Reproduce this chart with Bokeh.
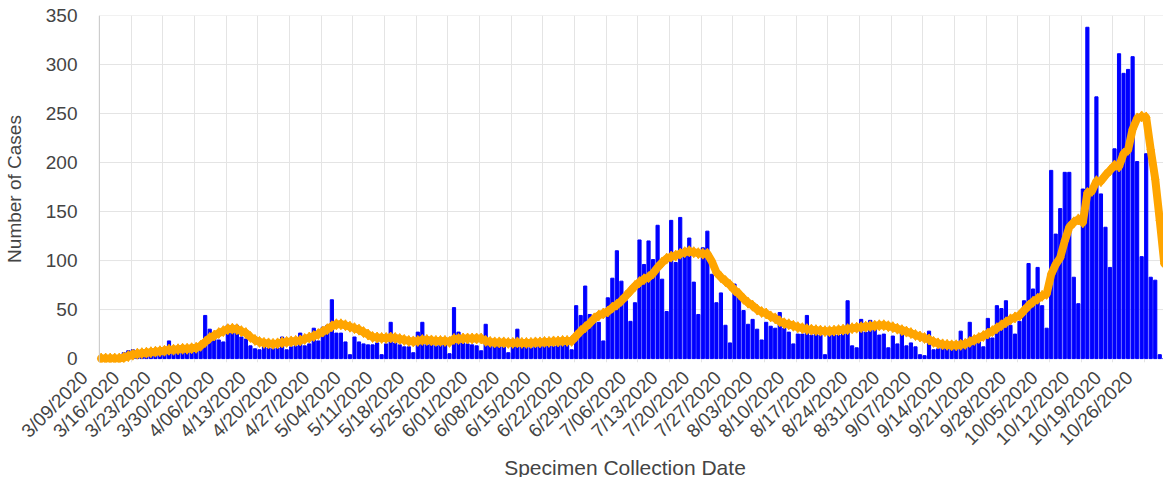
import math
from bokeh.plotting import figure
from bokeh.models import ColumnDataSource, FixedTicker, Range1d, Span
from bokeh.embed import file_html
from bokeh.resources import INLINE

# Daily case counts, one per day starting 3/09/2020
daily_cases = [
    0, 0, 0, 0, 0, 6, 8, 9, 6, 7,
    8, 5, 9, 7, 8, 18, 7, 8, 9, 10,
    9, 8, 16, 44, 30, 26, 19, 17, 34, 31,
    34, 22, 20, 13, 10, 9, 12, 11, 10, 11,
    22, 9, 12, 13, 26, 13, 15, 31, 18, 32,
    34, 60, 26, 26, 17, 4, 22, 17, 15, 14,
    14, 16, 4, 15, 37, 16, 14, 12, 12, 6,
    27, 37, 14, 15, 13, 14, 15, 5, 52, 27,
    16, 15, 14, 13, 8, 35, 15, 13, 13, 12,
    6, 12, 30, 12, 13, 11, 13, 13, 14, 15,
    13, 15, 14, 15, 9, 54, 44, 74, 45, 38,
    37, 18, 62, 82, 110, 79, 59, 38, 57, 121,
    96, 120, 101, 136, 81, 48, 141, 98, 144, 105,
    123, 78, 45, 113, 130, 86, 57, 67, 34, 16,
    76, 69, 49, 35, 40, 30, 19, 37, 33, 31,
    47, 31, 27, 15, 25, 25, 44, 24, 25, 24,
    4, 24, 25, 24, 25, 59, 13, 11, 40, 27,
    39, 30, 24, 25, 11, 23, 15, 32, 13, 16,
    12, 4, 3, 28, 9, 10, 11, 10, 11, 12,
    28, 14, 37, 19, 17, 12, 41, 21, 54, 51,
    59, 34, 25, 38, 59, 97, 71, 93, 54, 31,
    192, 127, 153, 190, 190, 83, 56, 173, 338, 168,
    267, 168, 134, 93, 214, 311, 291, 295, 308, 201,
    104, 209, 83, 80, 4, 0,
]

# 7-day average line
seven_day_avg = [
    0, 0, 0, 0, 0, 1, 2.5, 4, 5, 5.5,
    6, 6.5, 7, 7.5, 8, 9, 9, 9.5, 10, 10,
    10.5, 11, 13, 17, 21, 23.5, 26, 28, 30, 30.5,
    30, 28, 26, 22, 19, 17, 16, 15.5, 15, 15.5,
    16.5, 17, 17.5, 18, 18.5, 20, 21.5, 23, 25, 27.5,
    30, 33, 35, 35, 34, 32.5, 31, 29.5, 27, 24.5,
    22, 21.5, 21, 21, 21.5, 21, 20, 19, 18, 17.5,
    18, 19, 19, 18.5, 18, 18, 18, 17, 20, 20,
    20.5, 20.5, 20.5, 20.5, 20.5, 18, 17, 16.5, 16.5, 16.5,
    16, 16, 16.5, 16, 16, 16, 16.5, 16.5, 17, 17,
    17.5, 17.5, 18, 18, 18, 23, 28, 32, 36, 41,
    44, 46, 48, 52, 55, 59, 64, 69, 74, 78,
    81, 83, 87, 93, 98, 102, 104, 105, 107, 108.5,
    109.5, 108.5, 107.5, 107, 107, 99, 88, 83, 79, 75,
    70, 66, 61, 57, 54, 50, 47.5, 46, 43, 41,
    38, 36, 35, 33.5, 32, 31, 30, 29.5, 29, 28.5,
    28, 28, 28.5, 29, 29.5, 30, 31, 31.5, 32, 32.5,
    33, 33.5, 34, 34, 33, 32, 30.5, 29, 27.5, 26,
    24, 22.5, 21, 19.5, 17, 15.5, 14.5, 14, 13.5, 13.5,
    14, 15, 17, 19, 21, 23, 25.5, 28, 31, 34,
    37, 40, 42, 44, 49, 54, 58, 61, 64, 66,
    86, 96, 103, 120, 134, 139, 142, 139, 169, 171,
    181, 181, 187, 192, 197, 196, 209, 213, 234, 245,
    247, 246, 213, 183, 141, 97,
]

week_labels = [
    "3/09/2020", "3/16/2020", "3/23/2020", "3/30/2020", "4/06/2020",
    "4/13/2020", "4/20/2020", "4/27/2020", "5/04/2020", "5/11/2020",
    "5/18/2020", "5/25/2020", "6/01/2020", "6/08/2020", "6/15/2020",
    "6/22/2020", "6/29/2020", "7/06/2020", "7/13/2020", "7/20/2020",
    "7/27/2020", "8/03/2020", "8/10/2020", "8/17/2020", "8/24/2020",
    "8/31/2020", "9/07/2020", "9/14/2020", "9/21/2020", "9/28/2020",
    "10/05/2020", "10/12/2020", "10/19/2020", "10/26/2020",
]

y_ticks = [0, 50, 100, 150, 200, 250, 300, 350]

FONT = "Liberation Sans"
TXT = "#444444"
GRID = "#e4e4e4"
PX_PER_DAY = 4.524
X0 = -3.5          # room left of day 0 for the first rotated label
LABEL_SHIFT = 3.3  # rotated labels end slightly left of their week line
FW, FH = 1083, 347

n = len(daily_cases)
day_pos = [i + 0.4 for i in range(n)]
src = ColumnDataSource(dict(x=day_pos, cases=daily_cases, avg=seven_day_avg))

week_days = [7 * k for k in range(len(week_labels))]
label_pos = [d - LABEL_SHIFT for d in week_days]
x_end = X0 + FW / PX_PER_DAY

p = figure(
    frame_width=FW, frame_height=FH,
    x_range=Range1d(X0, x_end), y_range=Range1d(-4, 350),
    output_backend="svg", toolbar_location=None,
    min_border_left=80, min_border_right=0, min_border_top=15, min_border_bottom=115,
    background_fill_color="white", border_fill_color="white",
)
p.outline_line_color = None

# horizontal grid lines starting at the y axis (day 0)
p.ygrid.grid_line_color = None
p.segment(x0=[0] * len(y_ticks), x1=[x_end + 1] * len(y_ticks),
          y0=y_ticks, y1=y_ticks, line_color=GRID, line_width=1)
# vertical week grid lines
p.xgrid.ticker = FixedTicker(ticks=week_days)
p.xgrid.grid_line_color = GRID
# y axis line at day 0
p.add_layout(Span(location=0, dimension="height", line_color="#c8c8c8", line_width=1))

p.vbar(x="x", top="cases", width=0.7, color="#0000ff", source=src)
p.line(x="x", y="avg", line_width=8, color="#ffa500", line_join="round", line_cap="round", source=src)
p.scatter(x="x", y="avg", marker="diamond", size=11, color="#ffa500", source=src)

# x axis
xa = p.xaxis[0]
xa.ticker = FixedTicker(ticks=label_pos)
xa.major_label_overrides = {t: lab for t, lab in zip(label_pos, week_labels)}
xa.major_label_orientation = math.pi / 4
xa.axis_line_color = None
xa.major_tick_line_color = None
xa.minor_tick_line_color = None
xa.major_label_standoff = 6
xa.major_label_text_font = FONT
xa.major_label_text_font_size = "19px"
xa.major_label_text_color = TXT
xa.axis_label = "Specimen Collection Date"
xa.axis_label_text_font = FONT
xa.axis_label_text_font_size = "21px"
xa.axis_label_text_font_style = "normal"
xa.axis_label_text_color = TXT
xa.axis_label_standoff = -4

# y axis
ya = p.yaxis[0]
ya.ticker = FixedTicker(ticks=y_ticks)
ya.axis_line_color = None
ya.major_tick_line_color = None
ya.minor_tick_line_color = None
ya.major_label_standoff = 0
ya.major_label_text_font = FONT
ya.major_label_text_font_size = "19px"
ya.major_label_text_color = TXT
ya.axis_label = "Number of Cases"
ya.axis_label_text_font = FONT
ya.axis_label_text_font_size = "19px"
ya.axis_label_text_font_style = "normal"
ya.axis_label_text_color = TXT
ya.axis_label_standoff = 18

open("out.html", "w").write(file_html(p, INLINE))
